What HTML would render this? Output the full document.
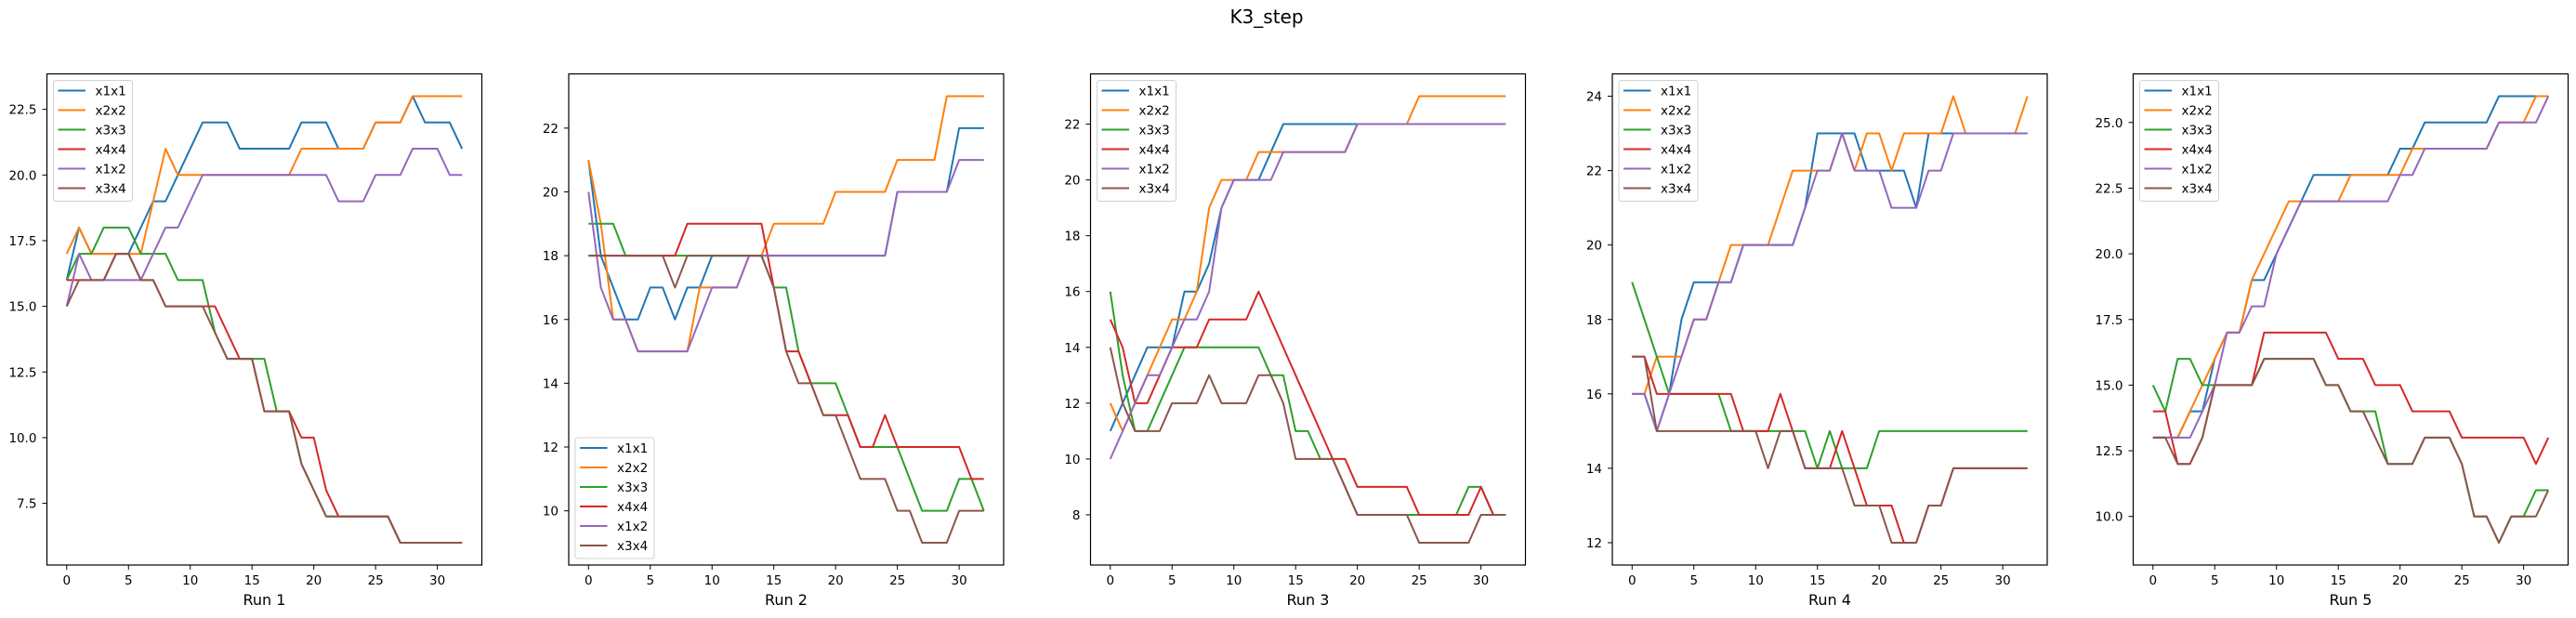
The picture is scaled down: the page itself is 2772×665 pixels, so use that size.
<!DOCTYPE html>
<html><head><meta charset="utf-8"><title>K3_step</title>
<style>
html,body{margin:0;padding:0;background:#fff;}
svg{display:block;font-family:"DejaVu Sans","Liberation Sans",sans-serif;}
</style></head>
<body>
<svg id="fig" xmlns="http://www.w3.org/2000/svg" width="2772" height="665" viewBox="0 0 2772 665">
<rect width="2772" height="665" fill="#fff"/>
<text x="1363" y="25" font-size="20" text-anchor="middle" fill="#000">K3_step</text>
</svg>
<script>
const seriesNames = ["x1x1","x2x2","x3x3","x4x4","x1x2","x3x4"];
const xTicks = [0,5,10,15,20,25,30];
const runTitles = ["Run 1","Run 2","Run 3","Run 4","Run 5"];

const run1X1x1 = [16,18,17,17,17,17,18,19,19,20,21,22,22,22,21,21,21,21,21,22,22,22,21,21,21,22,22,22,23,22,22,22,21];
const run1X2x2 = [17,18,17,17,17,17,17,19,21,20,20,20,20,20,20,20,20,20,20,21,21,21,21,21,21,22,22,22,23,23,23,23,23];
const run1X3x3 = [16,17,17,18,18,18,17,17,17,16,16,16,14,13,13,13,13,11,11,9,8,7,7,7,7,7,7,6,6,6,6,6,6];
const run1X4x4 = [16,16,16,16,17,17,16,16,15,15,15,15,15,14,13,13,11,11,11,10,10,8,7,7,7,7,7,6,6,6,6,6,6];
const run1X1x2 = [15,17,16,16,16,16,16,17,18,18,19,20,20,20,20,20,20,20,20,20,20,20,19,19,19,20,20,20,21,21,21,20,20];
const run1X3x4 = [15,16,16,16,17,17,16,16,15,15,15,15,14,13,13,13,11,11,11,9,8,7,7,7,7,7,7,6,6,6,6,6,6];
const run1YTicks = [7.5,10.0,12.5,15.0,17.5,20.0,22.5];
const run1YLabels = ["7.5","10.0","12.5","15.0","17.5","20.0","22.5"];

const run2X1x1 = [21,18,17,16,16,17,17,16,17,17,18,18,18,18,18,18,18,18,18,18,18,18,18,18,18,20,20,20,20,20,22,22,22];
const run2X2x2 = [21,19,16,16,15,15,15,15,15,17,17,17,17,18,18,19,19,19,19,19,20,20,20,20,20,21,21,21,21,23,23,23,23];
const run2X3x3 = [19,19,19,18,18,18,18,18,18,18,18,18,18,18,18,17,17,15,14,14,14,13,12,12,12,12,11,10,10,10,11,11,10];
const run2X4x4 = [18,18,18,18,18,18,18,18,19,19,19,19,19,19,19,17,15,15,14,13,13,13,12,12,13,12,12,12,12,12,12,11,11];
const run2X1x2 = [20,17,16,16,15,15,15,15,15,16,17,17,17,18,18,18,18,18,18,18,18,18,18,18,18,20,20,20,20,20,21,21,21];
const run2X3x4 = [18,18,18,18,18,18,18,17,18,18,18,18,18,18,18,17,15,14,14,13,13,12,11,11,11,10,10,9,9,9,10,10,10];
const run2YTicks = [10,12,14,16,18,20,22];
const run2YLabels = ["10","12","14","16","18","20","22"];

const run3X1x1 = [11,12,13,14,14,14,16,16,17,19,20,20,20,21,22,22,22,22,22,22,22,22,22,22,22,22,22,22,22,22,22,22,22];
const run3X2x2 = [12,11,12,13,14,15,15,16,19,20,20,20,21,21,21,21,21,21,21,21,22,22,22,22,22,23,23,23,23,23,23,23,23];
const run3X3x3 = [16,13,11,11,12,13,14,14,14,14,14,14,14,13,13,11,11,10,10,9,8,8,8,8,8,8,8,8,8,9,9,8,8];
const run3X4x4 = [15,14,12,12,13,14,14,14,15,15,15,15,16,15,14,13,12,11,10,10,9,9,9,9,9,8,8,8,8,8,9,8,8];
const run3X1x2 = [10,11,12,13,13,14,15,15,16,19,20,20,20,20,21,21,21,21,21,21,22,22,22,22,22,22,22,22,22,22,22,22,22];
const run3X3x4 = [14,12,11,11,11,12,12,12,13,12,12,12,13,13,12,10,10,10,10,9,8,8,8,8,8,7,7,7,7,7,8,8,8];
const run3YTicks = [8,10,12,14,16,18,20,22];
const run3YLabels = ["8","10","12","14","16","18","20","22"];

const run4X1x1 = [16,16,15,16,18,19,19,19,19,20,20,20,20,20,21,23,23,23,23,22,22,22,22,21,23,23,23,23,23,23,23,23,23];
const run4X2x2 = [16,16,17,17,17,18,18,19,20,20,20,20,21,22,22,22,22,23,22,23,23,22,23,23,23,23,24,23,23,23,23,23,24];
const run4X3x3 = [19,18,17,16,16,16,16,16,15,15,15,15,15,15,15,14,15,14,14,14,15,15,15,15,15,15,15,15,15,15,15,15,15];
const run4X4x4 = [17,17,16,16,16,16,16,16,16,15,15,15,16,15,14,14,14,15,14,13,13,13,12,12,13,13,14,14,14,14,14,14,14];
const run4X1x2 = [16,16,15,16,17,18,18,19,19,20,20,20,20,20,21,22,22,23,22,22,22,21,21,21,22,22,23,23,23,23,23,23,23];
const run4X3x4 = [17,17,15,15,15,15,15,15,15,15,15,14,15,15,14,14,14,14,13,13,13,12,12,12,13,13,14,14,14,14,14,14,14];
const run4YTicks = [12,14,16,18,20,22,24];
const run4YLabels = ["12","14","16","18","20","22","24"];

const run5X1x1 = [13,13,13,14,14,16,17,17,19,19,20,21,22,23,23,23,23,23,23,23,24,24,25,25,25,25,25,25,26,26,26,26,26];
const run5X2x2 = [13,13,13,14,15,16,17,17,19,20,21,22,22,22,22,22,23,23,23,23,23,24,24,24,24,24,24,24,25,25,25,26,26];
const run5X3x3 = [15,14,16,16,15,15,15,15,15,16,16,16,16,16,15,15,14,14,14,12,12,12,13,13,13,12,10,10,9,10,10,11,11];
const run5X4x4 = [14,14,12,12,13,15,15,15,15,17,17,17,17,17,17,16,16,16,15,15,15,14,14,14,14,13,13,13,13,13,13,12,13];
const run5X1x2 = [13,13,13,13,14,15,17,17,18,18,20,21,22,22,22,22,22,22,22,22,23,23,24,24,24,24,24,24,25,25,25,25,26];
const run5X3x4 = [13,13,12,12,13,15,15,15,15,16,16,16,16,16,15,15,14,14,13,12,12,12,13,13,13,12,10,10,9,10,10,10,11];
const run5YTicks = [10.0,12.5,15.0,17.5,20.0,22.5,25.0];
const run5YLabels = ["10.0","12.5","15.0","17.5","20.0","22.5","25.0"];

const colors = ["#1f77b4","#ff7f0e","#2ca02c","#d62728","#9467bd","#8c564b"];
const runs = [
  {series:[run1X1x1,run1X2x2,run1X3x3,run1X4x4,run1X1x2,run1X3x4], yt:run1YTicks, yl:run1YLabels, legendBottom:false},
  {series:[run2X1x1,run2X2x2,run2X3x3,run2X4x4,run2X1x2,run2X3x4], yt:run2YTicks, yl:run2YLabels, legendBottom:true},
  {series:[run3X1x1,run3X2x2,run3X3x3,run3X4x4,run3X1x2,run3X3x4], yt:run3YTicks, yl:run3YLabels, legendBottom:false},
  {series:[run4X1x1,run4X2x2,run4X3x3,run4X4x4,run4X1x2,run4X3x4], yt:run4YTicks, yl:run4YLabels, legendBottom:false},
  {series:[run5X1x1,run5X2x2,run5X3x3,run5X4x4,run5X1x2,run5X3x4], yt:run5YTicks, yl:run5YLabels, legendBottom:false}
];

const NS = "http://www.w3.org/2000/svg";
const svg = document.getElementById("fig");
function mk(tag, attrs, parent){
  const e = document.createElementNS(NS, tag);
  for (const k in attrs) e.setAttribute(k, attrs[k]);
  parent.appendChild(e);
  return e;
}
const lefts = [50.5, 612, 1173.5, 1735, 2295.5];
const AW = 468, TOP = 79.5, BOT = 608;

runs.forEach((run, ri) => {
  const L = lefts[ri], R = L + AW;
  const g = mk("g", {}, svg);
  
  
  const n = run.series[0].length;
  let mn = Infinity, mx = -Infinity;
  run.series.forEach(s => s.forEach(v => { mn = Math.min(mn, v); mx = Math.max(mx, v); }));
  const ym = (mx - mn) * 0.05, x0 = -(n-1)*0.05, x1 = (n-1)*1.05;
  const yLo = mn - ym, yHi = mx + ym;
  const sx = v => L + (v - x0) / (x1 - x0) * AW;
  const sy = v => BOT - (v - yLo) / (yHi - yLo) * (BOT - TOP);

  run.series.forEach((s, si) => {
    const p = mk("polyline", {points: s.map((v,i)=> sx(i).toFixed(2)+","+sy(v).toFixed(2)).join(" "), fill:"none", stroke:colors[si], "stroke-width":"2", "stroke-linejoin":"round"}, g);
    
    
  });

  const frame = mk("rect", {x:L, y:TOP, width:AW, height:BOT-TOP, fill:"none", stroke:"#000", "stroke-width":"1.2"}, g);
  
  

  xTicks.forEach(t => {
    const x = sx(t);
    mk("line", {x1:x, y1:BOT, x2:x, y2:BOT+5, stroke:"#000", "stroke-width":"1"}, g);
    const tx = mk("text", {x:x, y:629, "font-size":"13.5", "text-anchor":"middle", fill:"#000"}, g);
    tx.textContent = t;
    
    
  });
  run.yt.forEach((t, ti) => {
    const y = sy(t);
    mk("line", {x1:L-5, y1:y, x2:L, y2:y, stroke:"#000", "stroke-width":"1"}, g);
    const tx = mk("text", {x:L-11, y:y+5, "font-size":"13.5", "text-anchor":"end", fill:"#000"}, g);
    tx.textContent = run.yl[ti];
    
    
  });
  const xl = mk("text", {x:L+AW/2, y:651, "font-size":"16", "text-anchor":"middle", fill:"#000"}, g);
  xl.textContent = runTitles[ri];
  
  

  const lx = L + 7, lh = 130, ly = run.legendBottom ? BOT - 7 - lh : TOP + 7;
  const lg = mk("g", {}, g);
  
  
  mk("rect", {x:lx, y:ly, width:85, height:lh, rx:3, fill:"#fff", "fill-opacity":"0.8", stroke:"#d0d0d0", "stroke-width":"1"}, lg);
  seriesNames.forEach((nm, si) => {
    const yy = ly + 11 + si*21;
    const ent = mk("g", {}, lg);
    
    
    mk("line", {x1:lx+5, y1:yy, x2:lx+34.5, y2:yy, stroke:colors[si], "stroke-width":"2"}, ent);
    const t = mk("text", {x:lx+45, y:yy+5, "font-size":"13.5", fill:"#000"}, ent);
    t.textContent = nm;
  });
});
</script>
</body></html>
